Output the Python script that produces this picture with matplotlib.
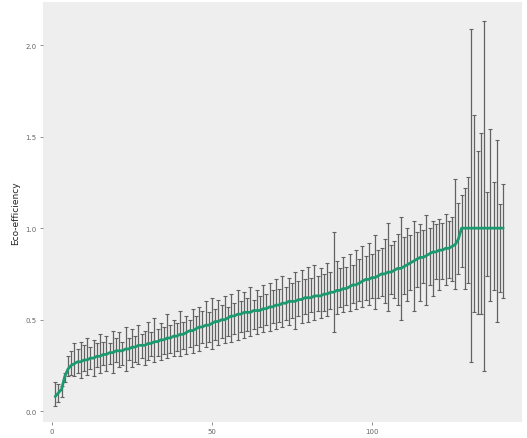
import numpy as np
import matplotlib
matplotlib.use("Agg")
import matplotlib.pyplot as plt

# Bias-corrected eco-efficiency per decision unit (sorted), with confidence bounds
efficiency = [
    0.08, 0.10, 0.12, 0.19, 0.23,
    0.25, 0.26, 0.27, 0.27, 0.28, 0.28, 0.29, 0.29, 0.30, 0.30,
    0.31, 0.31, 0.32, 0.32, 0.33, 0.33, 0.33, 0.34, 0.34, 0.35, 0.35, 0.36, 0.36, 0.36, 0.37,
    0.37, 0.38, 0.38, 0.39, 0.39, 0.40, 0.40, 0.41, 0.41, 0.42, 0.42, 0.43, 0.44, 0.44, 0.45, 0.46,
    0.46, 0.47, 0.47, 0.48, 0.49, 0.49, 0.50, 0.50, 0.51, 0.52, 0.52,
    0.53, 0.53, 0.54, 0.54, 0.54, 0.55, 0.55, 0.55, 0.56, 0.56,
    0.57, 0.57, 0.58, 0.58, 0.59, 0.59, 0.60, 0.60, 0.60, 0.61, 0.61,
    0.62, 0.62, 0.62, 0.63, 0.63, 0.63, 0.64, 0.64, 0.65, 0.65,
    0.66, 0.66, 0.67, 0.67, 0.68, 0.69, 0.69, 0.70, 0.71, 0.72,
    0.72, 0.73, 0.73, 0.74, 0.75, 0.75, 0.76, 0.76, 0.77, 0.78, 0.78,
    0.79, 0.80, 0.81, 0.82, 0.83, 0.84, 0.84, 0.85, 0.86, 0.87,
    0.87, 0.88, 0.88, 0.89, 0.89, 0.90, 0.91, 0.94,
    1.00, 1.00, 1.00, 1.00, 1.00, 1.00, 1.00, 1.00, 1.00, 1.00, 1.00, 1.00, 1.00, 1.00,
]

lower = [
    0.03, 0.05, 0.08, 0.16, 0.19,
    0.20, 0.19, 0.21, 0.18, 0.22, 0.20, 0.23, 0.19, 0.24, 0.21,
    0.25, 0.22, 0.26, 0.21, 0.27, 0.24, 0.25, 0.22, 0.28, 0.24, 0.27, 0.26, 0.29, 0.25, 0.28,
    0.30, 0.27, 0.30, 0.28, 0.31, 0.29, 0.32, 0.30, 0.33, 0.30, 0.34, 0.31, 0.35, 0.32, 0.36, 0.33,
    0.37, 0.35, 0.38, 0.34, 0.39, 0.36, 0.40, 0.37, 0.41, 0.38, 0.42,
    0.39, 0.43, 0.40, 0.44, 0.41, 0.45, 0.42, 0.46, 0.43, 0.47,
    0.44, 0.48, 0.45, 0.49, 0.46, 0.50, 0.47, 0.51, 0.45, 0.52, 0.48,
    0.53, 0.49, 0.54, 0.50, 0.55, 0.51, 0.55, 0.52, 0.56, 0.43,
    0.53, 0.57, 0.54, 0.58, 0.55, 0.59, 0.56, 0.60, 0.57, 0.61,
    0.58, 0.62, 0.56, 0.62, 0.63, 0.59, 0.55, 0.64, 0.62, 0.58, 0.50,
    0.64, 0.60, 0.66, 0.55, 0.68, 0.60, 0.70, 0.58, 0.69, 0.63,
    0.72, 0.66, 0.72, 0.69, 0.73, 0.71, 0.67, 0.75,
    0.79, 0.67, 0.70, 0.27, 0.54, 0.53, 0.53, 0.22, 0.74, 0.60, 0.66, 0.49, 0.65, 0.62,
]

upper = [
    0.16, 0.15, 0.14, 0.21, 0.30,
    0.33, 0.37, 0.34, 0.38, 0.36, 0.40, 0.35, 0.39, 0.37, 0.42,
    0.38, 0.41, 0.37, 0.44, 0.40, 0.43, 0.38, 0.46, 0.40, 0.45, 0.41, 0.47, 0.42, 0.44, 0.49,
    0.43, 0.51, 0.45, 0.48, 0.46, 0.53, 0.47, 0.50, 0.48, 0.55, 0.49, 0.52, 0.50, 0.56, 0.52, 0.57,
    0.55, 0.60, 0.54, 0.62, 0.56, 0.61, 0.58, 0.63, 0.57, 0.64, 0.59,
    0.66, 0.60, 0.65, 0.62, 0.68, 0.61, 0.66, 0.63, 0.69, 0.64,
    0.70, 0.66, 0.72, 0.67, 0.74, 0.68, 0.73, 0.70, 0.76, 0.71, 0.77,
    0.72, 0.79, 0.73, 0.80, 0.74, 0.78, 0.75, 0.81, 0.76, 0.98,
    0.82, 0.78, 0.84, 0.79, 0.86, 0.80, 0.88, 0.83, 0.90, 0.85,
    0.92, 0.86, 0.96, 0.88, 0.89, 0.94, 1.03, 0.91, 0.93, 0.97, 1.06,
    0.95, 1.00, 0.96, 1.04, 0.98, 1.02, 0.99, 1.07, 1.00, 1.04,
    1.02, 1.05, 1.03, 1.08, 1.04, 1.06, 1.27, 1.14,
    1.18, 1.22, 1.28, 2.09, 1.62, 1.42, 1.52, 2.13, 1.20, 1.54, 1.25, 1.48, 1.13, 1.24,
]

x_ticks = [0, 50, 100]
y_ticks = [0.0, 0.5, 1.0, 1.5, 2.0]
y_label = "Eco-efficiency"

eff = np.array(efficiency)
lo = np.array(lower)
hi = np.array(upper)
unit = np.arange(1, len(eff) + 1)

fig = plt.figure(figsize=(5.27, 4.39), dpi=100)
ax = fig.add_axes([0.0816, 0.036, 0.909, 0.957])
ax.set_facecolor("#eeeeee")

ax.errorbar(unit, eff, yerr=[eff - lo, hi - eff], fmt="none",
            ecolor="#626262", elinewidth=0.9, capsize=1.3, capthick=0.8, zorder=2)
ax.plot(unit, eff, color="#1b9a6e", lw=2.0, zorder=3, solid_capstyle="round")

ax.set_xlim(-2.8, 146.9)
ax.set_ylim(-0.06, 2.235)
ax.set_xticks(x_ticks)
ax.set_xticklabels([str(t) for t in x_ticks])
ax.set_yticks(y_ticks)
ax.set_yticklabels([f"{t:.1f}" for t in y_ticks])
ax.tick_params(axis="both", labelsize=5, colors="#666666", length=2.5, width=0.5, pad=2)
ax.set_ylabel(y_label, fontsize=6.5, color="#222222", labelpad=4)
for s in ax.spines.values():
    s.set_visible(False)

fig.savefig("out.png", dpi=100, facecolor="white")
